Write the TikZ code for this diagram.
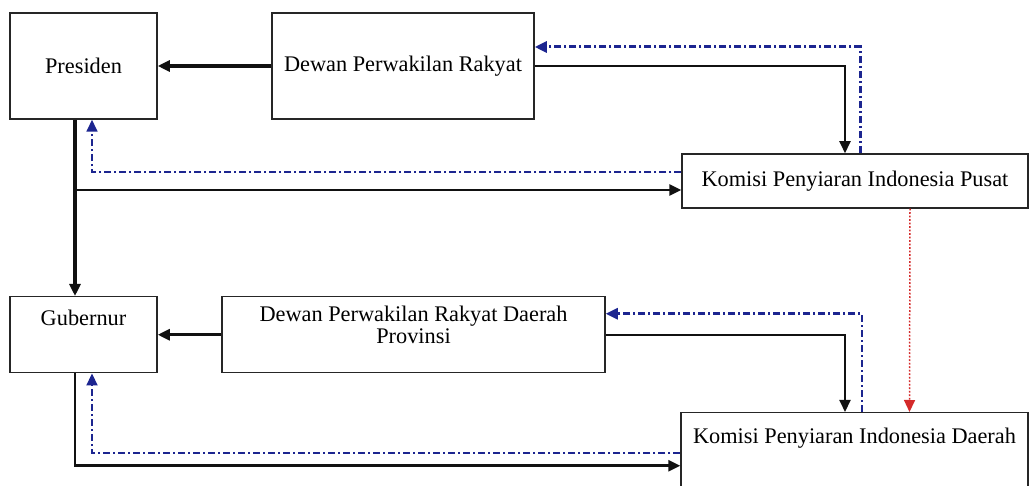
\documentclass[tikz,border=0pt]{standalone}
\usepackage{fontspec}
\setmainfont{Liberation Serif}
\usepackage{xcolor}
\usetikzlibrary{arrows.meta}
\definecolor{cLine}{HTML}{111111}
\definecolor{cBack}{HTML}{1C2590}
\definecolor{cDown}{HTML}{D42A2A}
\tikzset{
  >={Triangle[length=2.4mm, width=2.2mm]},
  lem/.style={draw=black!85, line width=0.3mm, fill=white, inner sep=0pt,
              font=\fontsize{12.7}{12.5}\selectfont, align=center},
  cmd/.style={->, line width=#1, cLine},
  cmd/.default=0.45mm,
  rpt/.style={->, line width=#1, cBack,
              dash pattern=on 1.4mm off 0.6mm on 0.4mm off 0.6mm},
  rpt/.default=0.5mm,
  koord/.style={->, line width=0.3mm, cDown, dash pattern=on 0.35mm off 0.35mm},
}

\begin{document}
\begin{tikzpicture}[x=0.2mm, y=-0.2mm]
  \useasboundingbox (0,0) rectangle (1030,486);

  % pusat
  \node[lem, minimum width=29.4mm, minimum height=21.2mm] (pres) at (83.5,66) {Presiden};
  \node[lem, minimum width=52.4mm, minimum height=21.2mm] (dpr)  at (403,66) {Dewan Perwakilan Rakyat};
  \node[lem, minimum width=69.2mm, minimum height=10.8mm] (kpip) at (855,181) {Komisi Penyiaran Indonesia Pusat};
  % daerah
  \node[lem, minimum width=29.4mm, anchor=north, text height=5.8mm, text depth=9.4mm] (gub) at (83.5,296) {Gubernur};
  \node[lem, minimum width=76.6mm, anchor=north, text height=9.4mm, text depth=5.8mm] (dprd) at (413.5,296) {Dewan Perwakilan Rakyat Daerah\\Provinsi};
  \node[lem, minimum width=69.4mm, anchor=north, text height=6.2mm, text depth=15mm] (kpid) at (854.5,412) {Komisi Penyiaran Indonesia Daerah};

  \draw[cmd=0.9mm] (dpr) -- (pres);
  \draw[cmd=0.4mm] (dpr.east) -| ([xshift=-2mm]kpip.north);
  \draw[rpt=0.6mm] ([xshift=1mm]kpip.north) |- ([yshift=3.8mm]dpr.east);
  \draw[cmd=0.8mm] ([xshift=-1.7mm]pres.south) -- ([xshift=-1.7mm]gub.north);
  \draw[cmd=0.55mm] ([xshift=-1.7mm]pres.south) |- ([yshift=-1.8mm]kpip.west);
  \draw[rpt=0.35mm] ([yshift=1.8mm]kpip.west) -| ([xshift=1.7mm]pres.south);
  \draw[koord] ([xshift=11mm]kpip.south) -- ([xshift=11mm]kpid.north);

  \draw[cmd=0.6mm] (dprd) -- (gub);
  \draw[cmd=0.4mm] (dprd.east) -| ([xshift=-1.9mm]kpid.north);
  \draw[rpt=0.55mm] ([xshift=1.5mm]kpid.north) |- ([yshift=4.2mm]dprd.east);
  \draw[cmd=0.5mm] ([xshift=-1.7mm]gub.south) |- (kpid.west);
  \draw[rpt=0.45mm] ([yshift=2.6mm]kpid.west) -| ([xshift=1.7mm]gub.south);
\end{tikzpicture}
\end{document}
